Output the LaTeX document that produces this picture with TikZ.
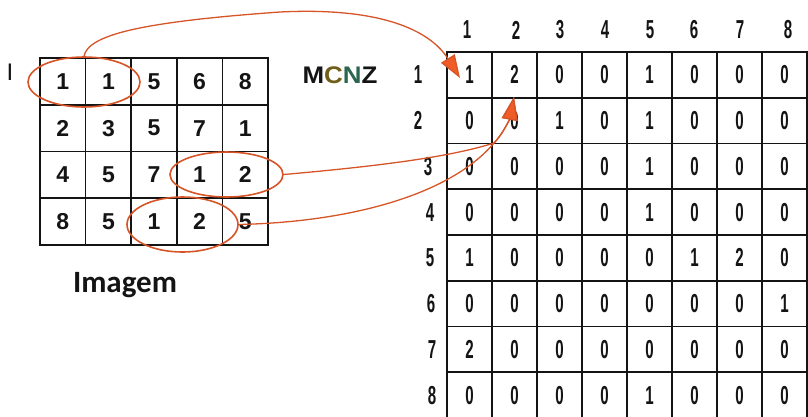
\documentclass[tikz,border=0pt]{standalone}
\usepackage{fontspec}
\setmainfont{Liberation Sans}
\newfontfamily\matfont{Liberation Sans}[FakeStretch=0.58]
\newfontfamily\imgfont{Carlito}
\usetikzlibrary{shapes.geometric,arrows.meta}
\definecolor{markc}{RGB}{214,84,38}
\definecolor{headc}{RGB}{240,92,40}
\definecolor{cC}{RGB}{112,94,26}
\definecolor{cN}{RGB}{44,102,80}
\definecolor{inkc}{RGB}{20,20,20}
\begin{document}
\begin{tikzpicture}[x=1pt,y=-1pt,
  cellA/.style={draw=inkc,line width=1.6pt,rectangle,minimum width=45.6pt,minimum height=46.75pt,inner sep=0pt,
    font=\fontsize{23}{23}\selectfont\bfseries,text=inkc},
  cellB/.style={draw=inkc,line width=1.6pt,rectangle,minimum width=45pt,minimum height=45.75pt,inner sep=0pt,
    font=\matfont\fontsize{26}{26}\selectfont\bfseries,text=inkc},
  headnum/.style={inner sep=0pt,font=\matfont\fontsize{26}{26}\selectfont\bfseries,text=inkc},
  ring/.style={ellipse,draw=markc,line width=1.6pt,inner sep=0pt},
  link/.style={draw=markc,line width=1.3pt,-{Triangle[length=23pt,width=16pt,fill=headc]}},
]
\useasboundingbox (0,0) rectangle (808,416);
% left image grid
\foreach \row [count=\r] in {{1,1,5,6,8},{2,3,5,7,1},{4,5,7,1,2},{8,5,1,2,5}} {
  \foreach \v [count=\c] in \row {
    \node[cellA] (a-\r-\c) at ({40+45.6*(\c-0.5)},{58+46.75*(\r-0.5)}) {\v};
  }
}
% right matrix
\foreach \row [count=\r] in {{1,2,0,0,1,0,0,0},{0,0,1,0,1,0,0,0},{0,0,0,0,1,0,0,0},{0,0,0,0,1,0,0,0},
                             {1,0,0,0,0,1,2,0},{0,0,0,0,0,0,0,1},{2,0,0,0,0,0,0,0},{0,0,0,0,1,0,0,0}} {
  \foreach \v [count=\c] in \row {
    \node[cellB] (m-\r-\c) at ({447+45*(\c-0.5)},{52+45.75*(\r-0.5)}) {\v};
  }
}
% column headers
\foreach \c/\xx in {1/467,2/516,3/560,4/605,5/650,6/694,7/740,8/788} {
  \node[headnum] (ch-\c) at (\xx,30) {\c};
}
% row headers
\foreach \r/\xx in {1/418,2/418,3/428,4/430,5/430,6/431,7/432,8/432} {
  \node[headnum] (rh-\r) at (\xx,{52+45.75*(\r-0.5)}) {\r};
}
% labels
\node[inner sep=0pt,font=\fontsize{24}{24}\selectfont,text=inkc] (lblI) at (10,72) {I};
\node[inner sep=0pt,font=\fontsize{24}{24}\selectfont\bfseries,text=inkc] (mcnz) at (340,75)
  {\scalebox{1.08}[1]{M\textcolor{cC}{C}\textcolor{cN}{N}Z}};
\node[inner sep=0pt,anchor=base,font=\imgfont\fontsize{31}{31}\selectfont\bfseries,text=inkc] (img) at (125,292) {Imagem};
% rings
\node[ring,minimum width=112pt,minimum height=50pt] (e1) at (84,82) {};
\node[ring,minimum width=113pt,minimum height=45pt] (e3) at (226.5,174.5) {};
\node[ring,minimum width=111pt,minimum height=55pt] (e4) at (182.5,224.5) {};
% arrows
\coordinate (t1) at (460,78);
\coordinate (t2) at (514,97);
\coordinate (j) at (494,143);
\draw[link] (e1.north) .. controls (88,35) and (140,22) .. (280,12) .. controls (380,7) and (430,30) .. (t1);
\draw[link] (e3.east) .. controls (380,166) and (450,157) .. (j) .. controls (503,134) and (510,118) .. (t2);
\draw[link] (e4.east) .. controls (350,222) and (450,195) .. (j) .. controls (503,134) and (510,118) .. (t2);
\end{tikzpicture}
\end{document}
